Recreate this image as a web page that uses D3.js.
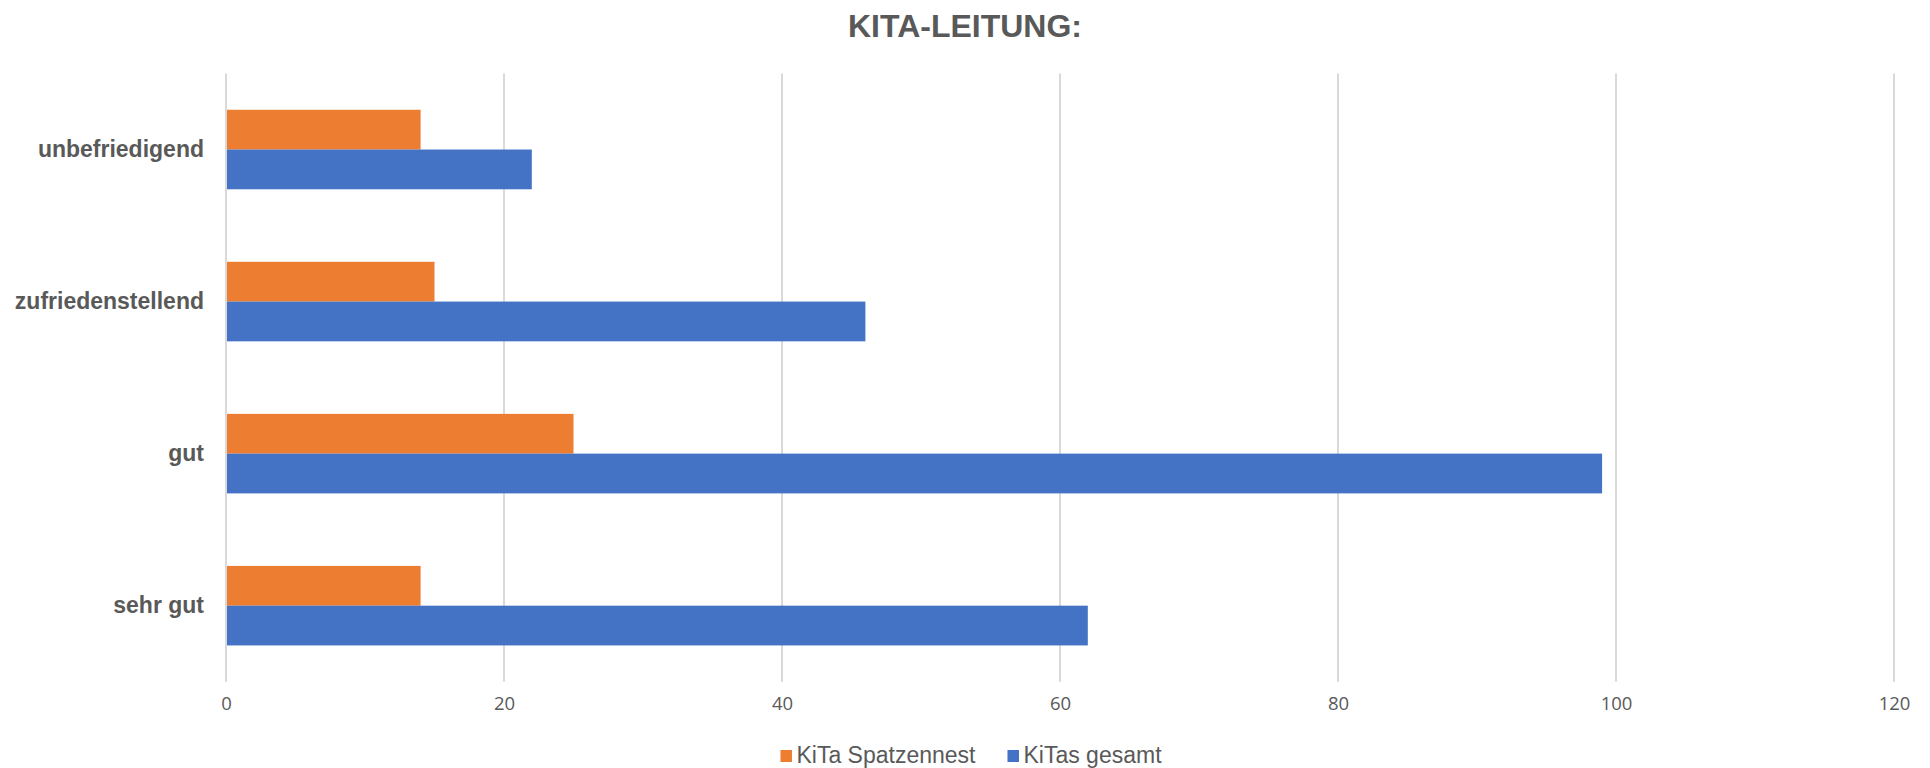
<!DOCTYPE html>
<html>
<head>
<meta charset="utf-8">
<script src="https://cdn.jsdelivr.net/npm/d3@7"></script>
<style>
  html, body { margin: 0; padding: 0; background: #fff; }
  svg { display: block; }
</style>
</head>
<body>
<div id="chart"></div>
<script>
const categories = ["unbefriedigend", "zufriedenstellend", "gut", "sehr gut"]
const seriesNames = ["KiTa Spatzennest", "KiTas gesamt"]
const spatzennest = [14, 15, 25, 14]
const gesamt = [22, 46, 99, 62]
const xTicks = [0, 20, 40, 60, 80, 100, 120]
const colors = ["#ED7D31", "#4472C4"]

const width = 1930
const height = 768
const marginTop = 73.5
const marginBottom = 86.3
const marginLeft = 226
const marginRight = 36
const textColor = "#595959"

const data = categories.map((c, i) => ({
  category: c,
  values: [spatzennest[i], gesamt[i]]
}))

const svg = d3
  .create("svg")
  .attr("viewBox", [0, 0, width, height])
  .attr("width", width)
  .attr("height", height)

const xScale = d3
  .scaleLinear()
  .domain([0, 120])
  .range([marginLeft, width - marginRight])

const yScale = d3
  .scaleBand()
  .domain(categories)
  .range([marginTop, height - marginBottom])
  .paddingInner(0.477)
  .paddingOuter(0.2385)

const ySub = d3
  .scaleBand()
  .domain(d3.range(seriesNames.length))
  .range([0, yScale.bandwidth()])

// gridlines
svg
  .append("g")
  .selectAll("line")
  .data(xTicks)
  .join("line")
  .attr("x1", d => xScale(d))
  .attr("x2", d => xScale(d))
  .attr("y1", marginTop)
  .attr("y2", height - marginBottom)
  .attr("stroke", "#d9d9d9")
  .attr("stroke-width", 2)

// x axis labels
const xAxis = d3.axisBottom(xScale).tickValues(xTicks).tickSize(0).tickPadding(15)
svg
  .append("g")
  .attr("transform", `translate(0, ${height - marginBottom})`)
  .call(xAxis)
  .call(g => g.select(".domain").remove())
  .call(g =>
    g
      .selectAll("text")
      .attr("fill", textColor)
      .style("font-family", "'Open Sans', sans-serif")
      .style("font-size", "18.5px")
  )

// y axis labels
const yAxis = d3.axisLeft(yScale).tickSize(0).tickPadding(22)
svg
  .append("g")
  .attr("transform", `translate(${marginLeft}, 0)`)
  .call(yAxis)
  .call(g => g.select(".domain").remove())
  .call(g =>
    g
      .selectAll("text")
      .attr("fill", textColor)
      .style("font-family", "'Liberation Sans', Arial, sans-serif")
      .style("font-size", "23px")
      .style("font-weight", "bold")
  )

// bars
svg
  .append("g")
  .selectAll("g")
  .data(data)
  .join("g")
  .attr("transform", d => `translate(0, ${yScale(d.category)})`)
  .selectAll("rect")
  .data(d => d.values)
  .join("rect")
  .attr("x", xScale(0) + 1)
  .attr("y", (d, i) => ySub(i))
  .attr("width", d => xScale(d) - xScale(0) - 1)
  .attr("height", ySub.bandwidth())
  .attr("fill", (d, i) => colors[i])

// title
svg
  .append("text")
  .attr("x", width / 2)
  .attr("y", 36.7)
  .attr("text-anchor", "middle")
  .attr("fill", textColor)
  .style("font-family", "'Liberation Sans', Arial, sans-serif")
  .style("font-size", "32px")
  .style("font-weight", "bold")
  .text("KITA-LEITUNG:")

// legend
const legend = svg.append("g")
const items = legend
  .selectAll("g")
  .data(seriesNames)
  .join("g")
items
  .append("rect")
  .attr("y", -12.5)
  .attr("width", 11.5)
  .attr("height", 12)
  .attr("fill", (d, i) => colors[i])
items
  .append("text")
  .attr("x", 16)
  .attr("fill", textColor)
  .style("font-family", "'Liberation Sans', Arial, sans-serif")
  .style("font-size", "23px")
  .text(d => d)

document.querySelector("#chart").append(svg.node())

let offset = 0
items.each(function () {
  const w = d3.select(this).select("text").node().getComputedTextLength()
  d3.select(this).attr("transform", `translate(${offset}, 0)`)
  offset += 16 + w + 32
})
const total = offset - 32
legend.attr("transform", `translate(${971 - total / 2}, 762.5)`)
</script>
</body>
</html>
